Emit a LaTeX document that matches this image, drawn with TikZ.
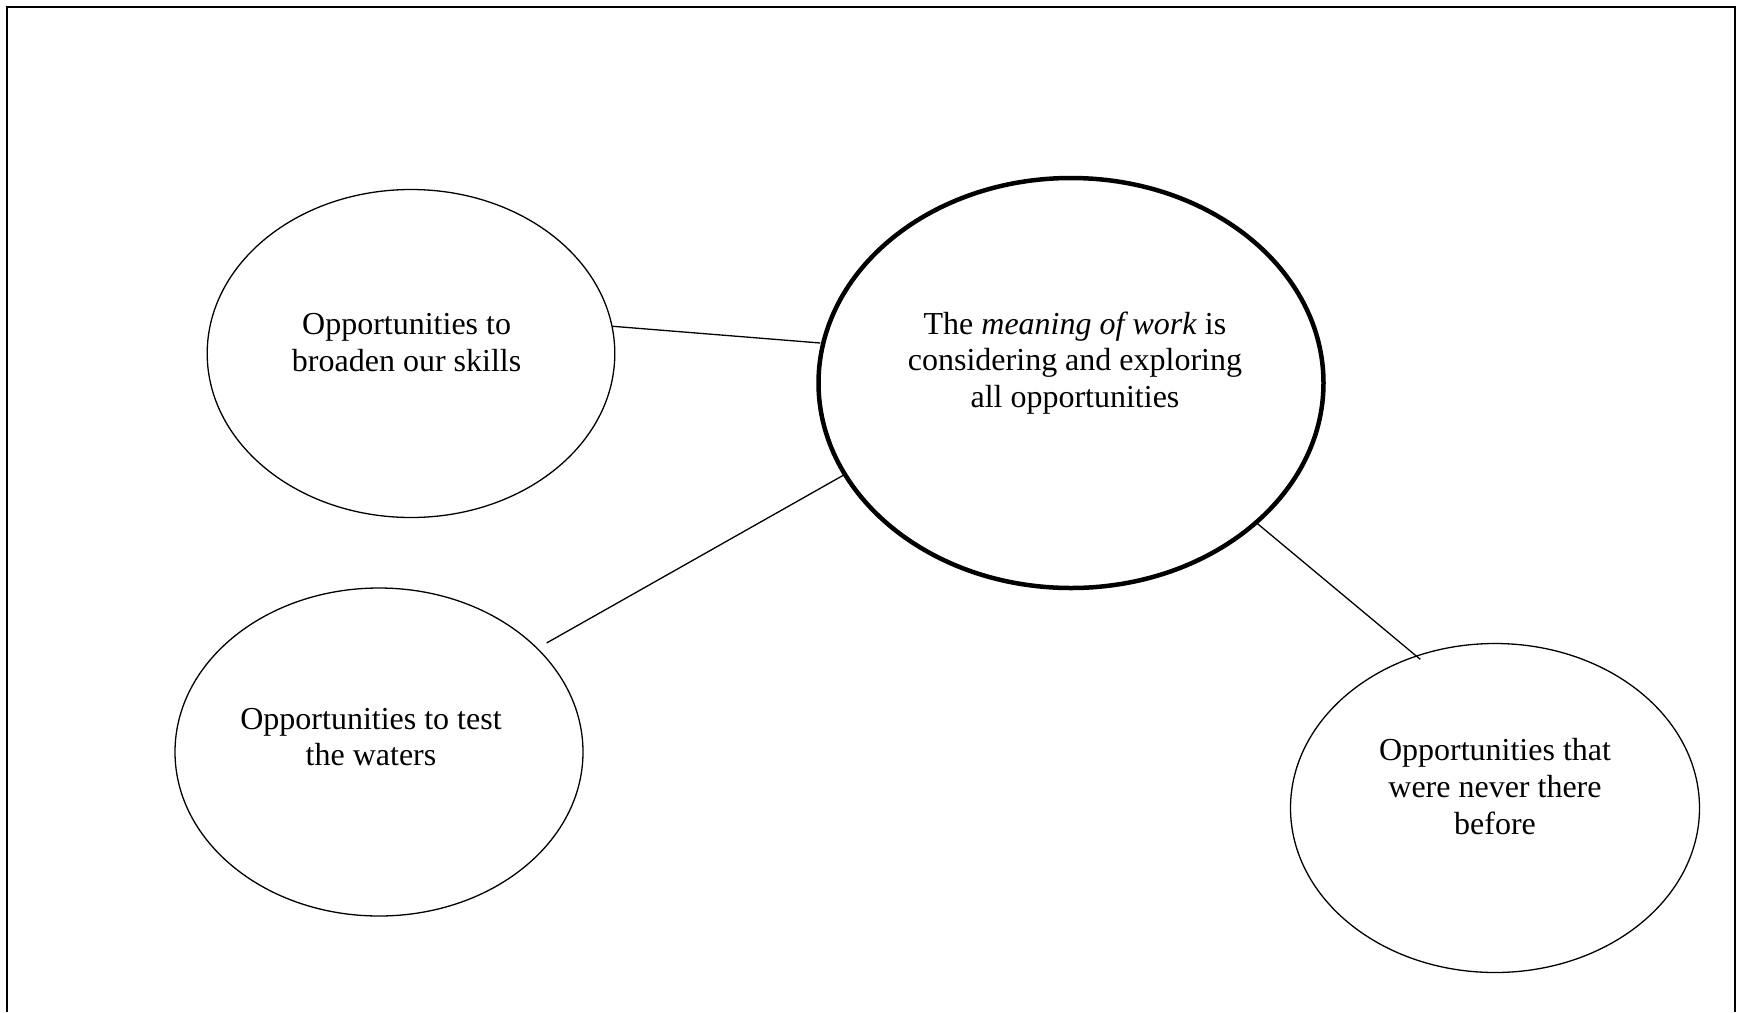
\documentclass[tikz,border=0pt]{standalone}
\usepackage{fontspec}
\setmainfont{Liberation Serif}
\usetikzlibrary{shapes.geometric}
\begin{document}
\begin{tikzpicture}[x=1pt,y=-1pt,
  bubble/.style={draw, ellipse, line width=1.3pt, inner sep=0pt, outer sep=0pt},
  mainbubble/.style={bubble, line width=4.5pt},
  caption/.style={align=center, font=\fontsize{32}{36.8}\selectfont, inner sep=0pt},
  link/.style={line width=1.3pt}]
\useasboundingbox (0,0) rectangle (1737,1012);
% open frame: top, left and right sides only
\draw[line width=1.5pt] (7,1012) -- (7,7) -- (1735,7) -- (1735,1012);

% bubbles
\node[bubble, minimum width=407.6pt, minimum height=328pt] (skills) at (411,353.5) {};
\node[mainbubble, minimum width=505pt, minimum height=410pt] (meaning) at (1071,383) {};
\node[bubble, minimum width=408pt, minimum height=328pt] (waters) at (379,752) {};
\node[bubble, minimum width=409pt, minimum height=329pt] (never) at (1495,808) {};

% captions
\node[caption] (skillsText) at (406.6,342.5) {Opportunities to\\broaden our skills};
\node[caption] (meaningText) at (1075,363) {The \textit{meaning of work} is\\considering and exploring\\all opportunities};
\node[caption] (watersText) at (371,737) {Opportunities to test\\the waters};
\node[caption] (neverText) at (1495,786.5) {Opportunities that\\were never there\\before};

% connectors
\draw[link] ([shift={(0,-2.5)}]skills.7.7) -- ([shift={(-4,3.5)}]meaning.170.8);
\draw[link] ([shift={(9,-6)}]waters.33) -- (meaning.202.7);
\draw[link] (meaning.-37.4) -- ([shift={(0,4.5)}]never.116.5);
\end{tikzpicture}
\end{document}
